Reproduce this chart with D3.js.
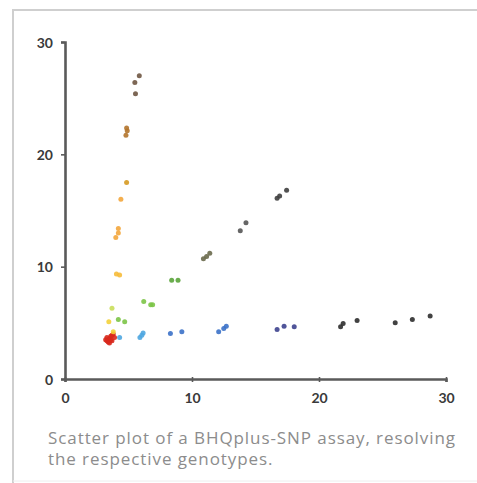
<!DOCTYPE html>
<html>
<head>
<meta charset="utf-8">
<script src="https://cdn.jsdelivr.net/npm/d3@7"></script>
<style>
  html, body { margin: 0; padding: 0; background: #fff; }
  svg { display: block; }
</style>
</head>
<body>
<div id="chart"></div>
<script>
// genotype clusters
const groupNames = ["red", "lightblue", "blue", "navy", "black", "yellow", "lime", "green", "darkgreen",
                    "olive", "gray", "charcoal", "amber", "orange", "gold", "tan", "brown"];
const groupColors = ["#d8281c", "#4ea6e0", "#3b71c8", "#3d438e", "#2e2e2e", "#f3d23a", "#c9de5a", "#7cc447",
                     "#5aa43a", "#6a6a4c", "#555555", "#3f3f3f", "#f6bb3a", "#f3a63c", "#d69a22", "#b3742c", "#6f5642"];
const groupX = [
  [3.3, 3.5, 3.6, 3.4, 3.7, 3.8, 3.5, 3.3, 3.6, 3.9, 3.2, 3.7],
  [4.3, 5.9, 6.05, 6.15],
  [8.3, 9.2, 12.1, 12.5, 12.7],
  [16.7, 17.25, 18.05],
  [21.7, 21.9, 23.0, 26.0, 27.35, 28.75],
  [3.45, 3.8],
  [3.7],
  [4.2, 4.7, 6.2, 6.75, 6.9],
  [8.4, 8.9],
  [10.9, 11.15, 11.4],
  [13.8, 14.25],
  [16.7, 16.9, 17.45],
  [4.05, 4.3],
  [4.0, 4.2, 4.2, 4.4],
  [4.85],
  [4.8, 4.9, 4.85],
  [5.5, 5.55, 5.85]
];
const groupY = [
  [3.4, 3.6, 3.8, 3.3, 3.9, 4.0, 3.2, 3.7, 3.5, 3.7, 3.5, 3.4],
  [3.7, 3.7, 3.9, 4.1],
  [4.05, 4.2, 4.2, 4.5, 4.7],
  [4.4, 4.7, 4.65],
  [4.65, 4.95, 5.2, 5.0, 5.3, 5.6],
  [5.1, 4.2],
  [6.3],
  [5.3, 5.1, 6.9, 6.6, 6.6],
  [8.8, 8.8],
  [10.7, 10.9, 11.2],
  [13.2, 13.9],
  [16.1, 16.3, 16.8],
  [9.35, 9.26],
  [12.6, 13.0, 13.4, 16.0],
  [17.5],
  [21.7, 22.1, 22.35],
  [26.4, 25.4, 27.0]
];
const xTicks = [0, 10, 20, 30];
const yTicks = [0, 10, 20, 30];
const captionLines = ["Scatter plot of a BHQplus-SNP assay, resolving", "the respective genotypes."];

const width = 477, height = 483;
const svg = d3.select("#chart").append("svg")
  .attr("width", width).attr("height", height);

// frame
svg.append("path")
  .attr("d", `M13,${height} V10 H${width}`)
  .attr("fill", "none").attr("stroke", "#cfcfcf").attr("stroke-width", 2);
svg.append("line")
  .attr("x1", 13).attr("x2", width).attr("y1", 481).attr("y2", 481)
  .attr("stroke", "#eeeeee").attr("stroke-width", 1);

const x = d3.scaleLinear().domain([0, 30]).range([65, 446]);
const y = d3.scaleLinear().domain([0, 30]).range([379, 42]);

const axisColor = "#5a5a5a";
const labelFont = "Lato, 'Open Sans', sans-serif";

// x axis
const gx = svg.append("g").attr("transform", `translate(0,${y(0)})`)
  .call(d3.axisBottom(x).tickValues(xTicks).tickSize(3).tickPadding(8));
// y axis
const gy = svg.append("g").attr("transform", `translate(${x(0)},0)`)
  .call(d3.axisLeft(y).tickValues(yTicks).tickSize(4).tickPadding(8));

[gx, gy].forEach(g => {
  g.select(".domain").attr("stroke", axisColor).attr("stroke-width", 2.6);
  g.selectAll(".tick line").attr("stroke", axisColor).attr("stroke-width", 1.6);
  g.selectAll(".tick text")
    .attr("fill", "#3a3a3a")
    .style("font-family", labelFont)
    .style("font-size", "14px")
    .style("font-weight", "bold");
});
gx.selectAll(".tick line").attr("y1", -2).attr("y2", 3);
gx.selectAll(".tick text").attr("dy", "0.9em");
gy.selectAll(".tick text").attr("dy", "0.36em");

// points
const points = [];
groupNames.forEach((name, i) => {
  groupX[i].forEach((v, j) => points.push({ group: name, color: groupColors[i], x: v, y: groupY[i][j] }));
});

svg.append("g").selectAll("circle")
  .data(points)
  .join("circle")
    .attr("cx", d => x(d.x))
    .attr("cy", d => y(d.y))
    .attr("r", 2.5)
    .attr("fill", d => d.color)
    .attr("fill-opacity", 0.9);

// caption
const caption = svg.append("g")
  .style("font-family", "'Open Sans', sans-serif")
  .style("font-weight", 400)
  .attr("fill", "#8c8c8c");
const capText = caption.selectAll("text")
  .data(captionLines)
  .join("text")
    .attr("x", 48)
    .attr("y", (d, i) => 444 + i * 21)
    .style("font-size", "17px")
    .text(d => d);
// widen the letter spacing so the first line spans like the reference (~407px)
const w0 = capText.node().getComputedTextLength();
const ls = Math.max(0, (407 - w0) / (captionLines[0].length - 1));
capText.style("letter-spacing", ls + "px");
</script>
</body>
</html>
